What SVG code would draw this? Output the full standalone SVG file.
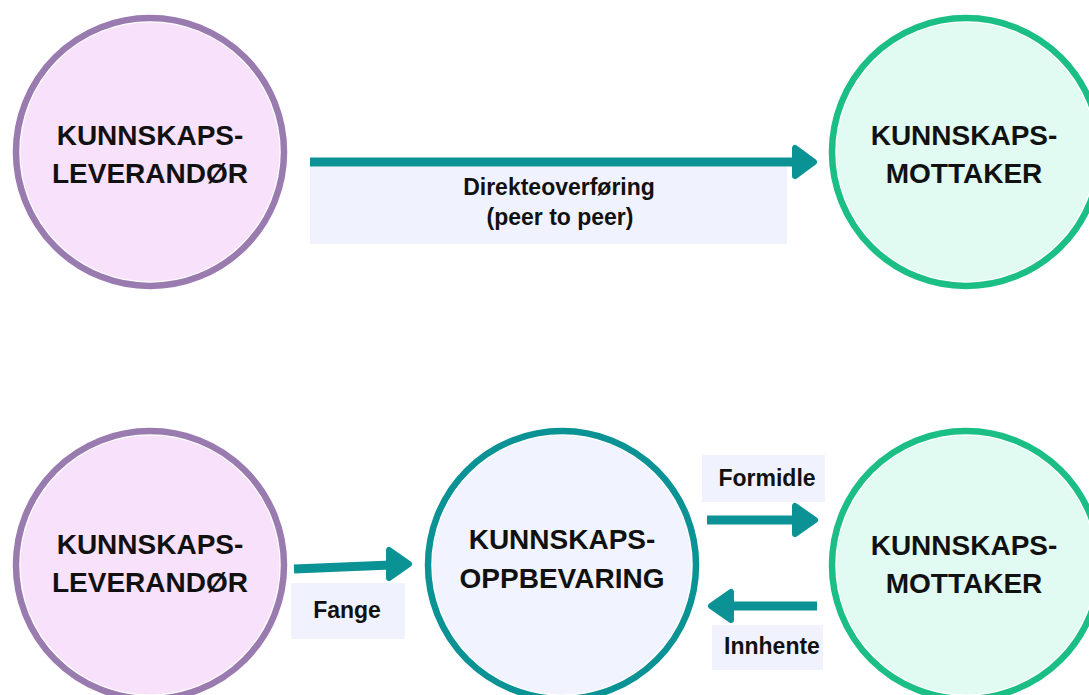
<svg xmlns="http://www.w3.org/2000/svg" width="1089" height="695" viewBox="0 0 1089 695">
  <style>
    .node-text { font-family: "Liberation Sans", Arial, sans-serif; font-weight: bold; font-size: 28px; fill: #111111; text-anchor: middle; }
    .label-text { font-family: "Liberation Sans", Arial, sans-serif; font-weight: bold; font-size: 23px; fill: #111111; text-anchor: middle; }
    .label-box { fill: #f0f3fd; }
    .ring-purple { fill: #ffffff; stroke: #9a7bb0; stroke-width: 6.5; }
    .ring-green { fill: #ffffff; stroke: #1bbf86; stroke-width: 6.5; }
    .ring-teal { fill: #ffffff; stroke: #0a9294; stroke-width: 6.5; }
    .fill-purple { fill: #f8e1fa; }
    .fill-green { fill: #e1fbf3; }
    .fill-teal { fill: #f1f4fe; }
    .shaft { stroke: #0a9294; stroke-width: 9; fill: none; }
    .head { fill: #0a9294; stroke: #0a9294; stroke-width: 6; stroke-linejoin: round; }
  </style>

  <g id="label-boxes">
    <rect class="label-box" x="310" y="167" width="477" height="77"/>
    <rect class="label-box" x="291" y="583" width="114" height="56"/>
    <rect class="label-box" x="702" y="455" width="123" height="47"/>
    <rect class="label-box" x="712" y="625" width="111" height="45"/>
  </g>

  <g id="connectors">
    <g id="edge-direkte">
      <line class="shaft" x1="310" y1="162" x2="796" y2="162"/>
      <polygon class="head" points="814,162 795,148 795,176"/>
      <text class="label-text" x="559" y="195">Direkteoverføring</text>
      <text class="label-text" x="560" y="225">(peer to peer)</text>
    </g>
    <g id="edge-fange">
      <line class="shaft" x1="294" y1="569" x2="391" y2="565"/>
      <polygon class="head" points="409,564 389,550 389,578"/>
      <text class="label-text" x="347" y="618">Fange</text>
    </g>
    <g id="edge-formidle">
      <line class="shaft" x1="707" y1="520" x2="796" y2="520"/>
      <polygon class="head" points="815,520 795,506 795,534"/>
      <text class="label-text" x="767" y="486">Formidle</text>
    </g>
    <g id="edge-innhente">
      <line class="shaft" x1="817" y1="606" x2="729" y2="606"/>
      <polygon class="head" points="711,606 731,592 731,620"/>
      <text class="label-text" x="772" y="654">Innhente</text>
    </g>
  </g>

  <g id="node-leverandor-top">
    <circle class="ring-purple" cx="150" cy="152" r="134"/>
    <circle class="fill-purple" cx="150" cy="152" r="129.5"/>
    <text class="node-text" x="150" y="145">KUNNSKAPS-</text>
    <text class="node-text" x="150" y="183">LEVERANDØR</text>
  </g>

  <g id="node-mottaker-top">
    <circle class="ring-green" cx="966" cy="152" r="134"/>
    <circle class="fill-green" cx="966" cy="152" r="129.5"/>
    <text class="node-text" x="964" y="145">KUNNSKAPS-</text>
    <text class="node-text" x="964" y="183">MOTTAKER</text>
  </g>

  <g id="node-leverandor-bottom">
    <circle class="ring-purple" cx="150" cy="565" r="134"/>
    <circle class="fill-purple" cx="150" cy="565" r="129.5"/>
    <text class="node-text" x="150" y="554">KUNNSKAPS-</text>
    <text class="node-text" x="150" y="592">LEVERANDØR</text>
  </g>

  <g id="node-oppbevaring">
    <circle class="ring-teal" cx="562" cy="565" r="134"/>
    <circle class="fill-teal" cx="562" cy="565" r="129.5"/>
    <text class="node-text" x="562" y="549">KUNNSKAPS-</text>
    <text class="node-text" x="562" y="588">OPPBEVARING</text>
  </g>

  <g id="node-mottaker-bottom">
    <circle class="ring-green" cx="966" cy="565" r="134"/>
    <circle class="fill-green" cx="966" cy="565" r="129.5"/>
    <text class="node-text" x="964" y="555">KUNNSKAPS-</text>
    <text class="node-text" x="964" y="593">MOTTAKER</text>
  </g>
</svg>
